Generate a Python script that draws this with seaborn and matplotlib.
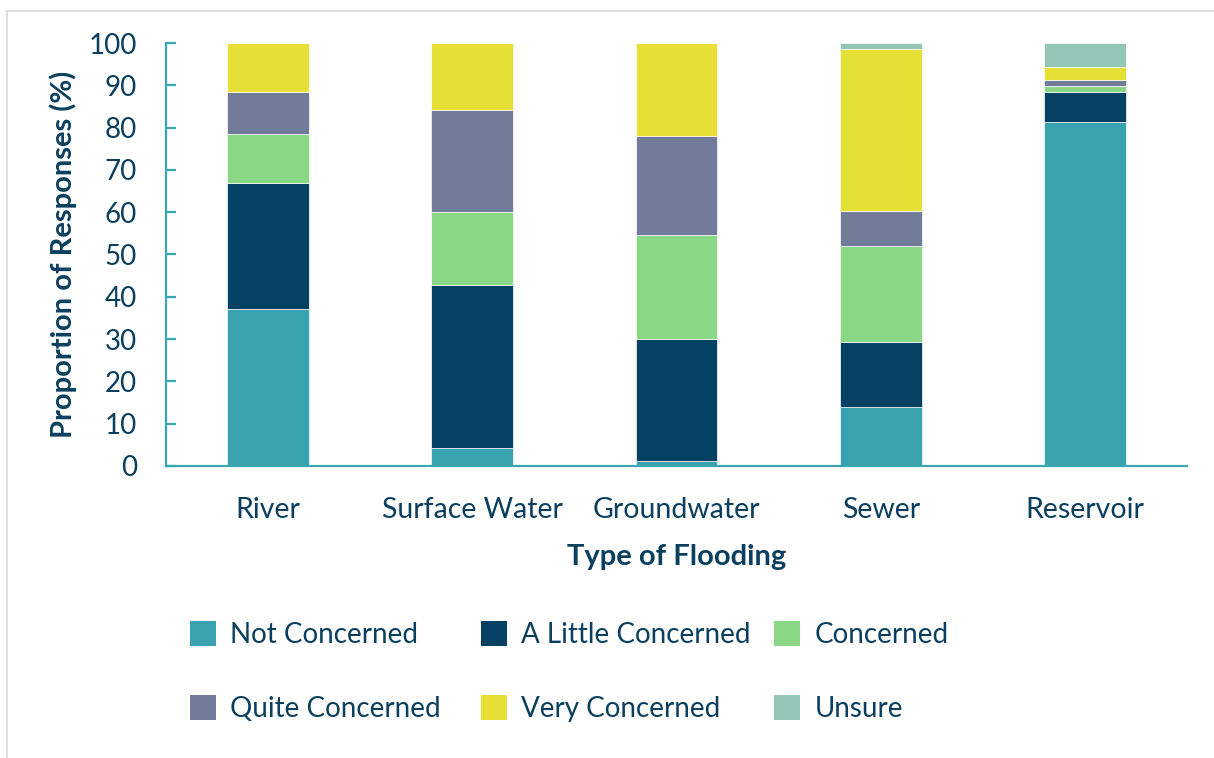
import numpy as np
import matplotlib
matplotlib.use('Agg')
import matplotlib.pyplot as plt
import seaborn as sns
from matplotlib.patches import Patch
from matplotlib.lines import Line2D

flood_types = ['River', 'Surface Water', 'Groundwater', 'Sewer', 'Reservoir']
levels = ['Not Concerned', 'A Little Concerned', 'Concerned',
          'Quite Concerned', 'Very Concerned', 'Unsure']
not_concerned = [37.1, 4.2, 1.2, 13.9, 81.4]
little_concerned = [29.9, 38.6, 28.8, 15.5, 7.1]
concerned = [11.5, 17.2, 24.7, 22.6, 1.4]
quite_concerned = [10.0, 24.2, 23.3, 8.4, 1.4]
very_concerned = [11.5, 15.8, 22.0, 38.2, 3.0]
unsure = [0.0, 0.0, 0.0, 1.4, 5.7]
colors = ['#38a3af', '#054163', '#8ad886', '#727b99', '#e6df35', '#93c6b7']

text_col = '#0a3f5f'
axis_col = '#3aa6b0'

sns.set_style('white')
plt.rcParams['font.family'] = ['Lato', 'DejaVu Sans']

fig = plt.figure(figsize=(12.14, 7.58), dpi=100)
ax = fig.add_axes([166 / 1214, 1 - 466 / 758, 1021 / 1214, 423 / 758])

series = [not_concerned, little_concerned, concerned, quite_concerned, very_concerned, unsure]
bottom = np.zeros(len(flood_types))
for vals, col in zip(series, colors):
    sns.barplot(x=flood_types, y=vals, bottom=bottom, color=col, saturation=1,
                width=0.4, edgecolor='white', linewidth=0.5, ax=ax)
    bottom = bottom + np.array(vals)

ax.set_ylim(0, 100)
ax.set_xlim(-0.5, 4.5)
ax.set_yticks(range(0, 101, 10))
for s in ['top', 'right']:
    ax.spines[s].set_visible(False)
for s in ['left', 'bottom']:
    ax.spines[s].set_color(axis_col)
    ax.spines[s].set_linewidth(1.6)
ax.tick_params(axis='y', direction='in', length=7, width=1.6, color=axis_col,
               labelsize=20, labelcolor=text_col, pad=21, left=True)
ax.tick_params(axis='x', length=0, labelsize=20.5, labelcolor=text_col, pad=22)

ax.set_ylabel('Proportion of Responses (%)', fontsize=21, fontweight='bold', color=text_col)
ax.yaxis.set_label_coords(-0.087, 0.5)
ax.set_xlabel('Type of Flooding', fontsize=21, fontweight='bold', color=text_col)
ax.xaxis.set_label_coords(0.5, -0.185)

# legend in three fixed-width columns like the original
col_x = [190, 481, 774]
for i, x in enumerate(col_x):
    hs = [Patch(facecolor=colors[i], edgecolor='none'),
          Patch(facecolor=colors[i + 3], edgecolor='none')]
    lg = fig.legend(hs, [levels[i], levels[i + 3]], loc='upper left',
                    bbox_to_anchor=(x / 1214, 1 - 621 / 758), frameon=False,
                    fontsize=20, labelcolor=text_col, handlelength=0.95,
                    handleheight=1.0, handletextpad=0.5, labelspacing=1.7,
                    borderpad=0, borderaxespad=0)

# thin outer frame
fig.add_artist(Line2D([7 / 1214, 1], [1 - 11 / 758, 1 - 11 / 758],
                      transform=fig.transFigure, color='#d9d9d9', lw=1.2))
fig.add_artist(Line2D([7 / 1214, 7 / 1214], [0, 1 - 11 / 758],
                      transform=fig.transFigure, color='#d9d9d9', lw=1.2))

fig.savefig('out.png', dpi=100)
